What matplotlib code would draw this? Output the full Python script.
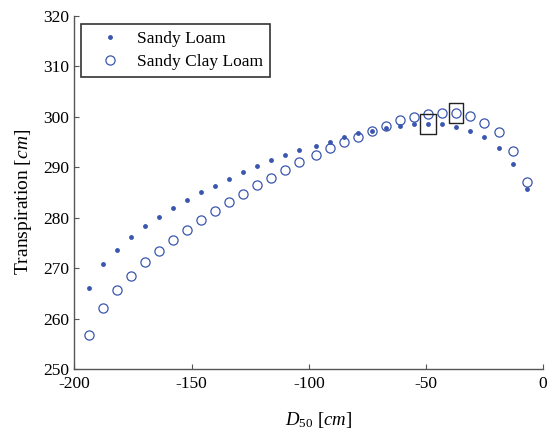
import matplotlib
matplotlib.use("Agg")
import matplotlib.pyplot as plt
from matplotlib.path import Path

plt.rcParams['font.family'] = ['Liberation Serif', 'DejaVu Serif']
plt.rcParams['mathtext.fontset'] = 'custom'
plt.rcParams['mathtext.rm'] = 'Liberation Serif'
plt.rcParams['mathtext.it'] = 'Liberation Serif:italic'

d50 = [-194, -188, -182, -176, -170, -164, -158, -152, -146, -140, -134, -128,
       -122, -116, -110, -104, -97, -91, -85, -79, -73, -67, -61, -55, -49,
       -43, -37, -31, -25, -19, -13, -7]
sandy_loam = [266.2, 270.8, 273.7, 276.3, 278.4, 280.2, 281.9, 283.6, 285.1, 286.4,
              287.7, 289.0, 290.3, 291.4, 292.4, 293.5, 294.3, 295.1, 296.0, 296.9,
              297.3, 297.9, 298.3, 298.6, 298.6, 298.6, 298.1, 297.3, 296.0, 293.9,
              290.6, 285.7]
sandy_clay_loam = [256.7, 262.1, 265.7, 268.5, 271.3, 273.4, 275.6, 277.7, 279.6, 281.4,
                   283.1, 284.8, 286.5, 288.0, 289.5, 291.0, 292.5, 293.8, 295.0, 296.1,
                   297.2, 298.3, 299.4, 300.0, 300.5, 300.7, 300.7, 300.2, 298.9, 297.0,
                   293.2, 287.2]
opt_sandy_idx = 24
opt_clay_idx = 26
labels = ['Sandy Loam', 'Sandy Clay Loam']
xticks = [-200, -150, -100, -50, 0]
yticks = [250, 260, 270, 280, 290, 300, 310, 320]

blue = '#3A56AE'
fig = plt.figure(figsize=(5.53, 4.33), dpi=100)
ax = fig.add_axes([0.1347, 0.1471, 0.982 - 0.1347, 0.963 - 0.1471])

ax.plot(d50, sandy_loam, linestyle='none', marker='o', markersize=3.5,
        color=blue, markeredgewidth=0, label=labels[0])
ax.plot(d50, sandy_clay_loam, linestyle='none', marker='o', markersize=6.6,
        markerfacecolor='none', markeredgecolor=blue, markeredgewidth=0.9,
        label=labels[1])

rect = Path([(-0.38, -0.5), (0.38, -0.5), (0.38, 0.5), (-0.38, 0.5), (-0.38, -0.5)],
            [Path.MOVETO, Path.LINETO, Path.LINETO, Path.LINETO, Path.CLOSEPOLY])
ax.plot([d50[opt_sandy_idx]], [sandy_loam[opt_sandy_idx]], linestyle='none',
        marker=rect, markersize=15, markerfacecolor='none',
        markeredgecolor='#222222', markeredgewidth=1.0)
ax.plot([d50[opt_clay_idx]], [sandy_clay_loam[opt_clay_idx]], linestyle='none',
        marker=rect, markersize=14, markerfacecolor='none',
        markeredgecolor='#222222', markeredgewidth=1.0)

ax.set_xlim(-200, 0)
ax.set_ylim(250, 320)
ax.set_xticks(xticks)
ax.set_yticks(yticks)
ax.set_xticklabels([str(t) for t in xticks])
ax.set_yticklabels([str(t) for t in yticks])
for s in ['top', 'right']:
    ax.spines[s].set_visible(False)
for s in ['left', 'bottom']:
    ax.spines[s].set_color('#555555')
    ax.spines[s].set_linewidth(1.0)
ax.tick_params(direction='in', length=3.5, width=0.8, color='#555555',
               labelsize=12.5)
ax.tick_params(axis='x', pad=4.5)
ax.tick_params(axis='y', pad=4)

ax.set_xlabel(r'$D_{50}$ [$cm$]', fontsize=13.5)
ax.set_ylabel(r'Transpiration [$cm$]', fontsize=14)
ax.xaxis.set_label_coords(0.52, -0.116)
ax.yaxis.set_label_coords(-0.086, 0.475)

leg = ax.legend(loc='upper left', bbox_to_anchor=(0.013, 0.9765), borderaxespad=0,
                fontsize=12.5, frameon=True, fancybox=False, borderpad=0.4,
                handlelength=2.55, handletextpad=0.28, labelspacing=0.35,
                numpoints=1)
leg.get_frame().set_edgecolor('black')
leg.get_frame().set_linewidth(1.2)

fig.savefig('out.png', dpi=100)
